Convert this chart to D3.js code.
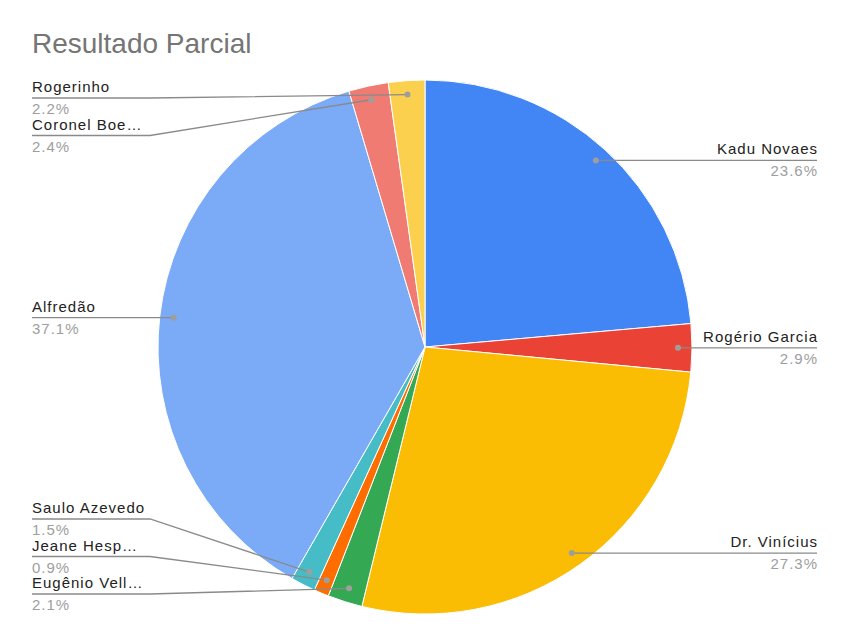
<!DOCTYPE html>
<html><head><meta charset="utf-8">
<script src="https://cdn.jsdelivr.net/npm/d3@7"></script>
<style>html,body{margin:0;padding:0;background:#fff;}svg{display:block;}</style>
</head><body>
<svg id="c" width="848" height="636"></svg>
<script>
const categories = ["Kadu Novaes","Rogério Garcia","Dr. Vinícius","Eugênio Vell…","Jeane Hesp…","Saulo Azevedo","Alfredão","Coronel Boe…","Rogerinho"];
const values = [23.6, 2.9, 27.3, 2.1, 0.9, 1.5, 37.1, 2.4, 2.2];
const colors = ["#4285f4","#ea4335","#fbbc04","#34a853","#ff6d01","#46bdc6","#7baaf7","#f07b72","#fcd04f"];
const title = "Resultado Parcial";

const W = 848, H = 636, cx = 425, cy = 347, R = 267, dotR = 253;
const FONT = "'Liberation Sans', Arial, sans-serif";
const svg = d3.select("#c");
svg.append("text").attr("x", 32).attr("y", 53).attr("font-family", FONT).attr("font-size", 28)
  .attr("fill", "#757575").text(title);

const pie = d3.pie().sort(null).value(d => d)(values);
const arc = d3.arc().innerRadius(0).outerRadius(R);
const g = svg.append("g").attr("transform", `translate(${cx},${cy})`);
g.selectAll("path").data(pie).join("path").attr("d", arc)
  .attr("fill", (d, i) => colors[i]).attr("stroke", "#fff").attr("stroke-width", 1);

const items = pie.map((d, i) => {
  const a = (d.startAngle + d.endAngle) / 2;
  const x = cx + dotR * Math.sin(a), y = cy - dotR * Math.cos(a);
  return {i, a, x, y, side: a < Math.PI ? "R" : "L", ly: y};
});
const minY = 98, maxY = 594, gap = 37.5;
["L", "R"].forEach(s => {
  const arr = items.filter(d => d.side === s).sort((a, b) => a.y - b.y);
  arr.forEach(d => d.ly = Math.max(minY, Math.min(maxY, d.y)));
  for (let k = 1; k < arr.length; k++) arr[k].ly = Math.max(arr[k].ly, arr[k - 1].ly + gap);
  for (let k = arr.length - 1; k >= 0; k--) {
    const lim = k === arr.length - 1 ? maxY : arr[k + 1].ly - gap;
    arr[k].ly = Math.min(arr[k].ly, lim);
  }
});

const lg = svg.append("g");
items.forEach(d => {
  let pts;
  if (d.side === "L") pts = [[32, d.ly], [150, d.ly], [d.x, d.y]];
  else pts = [[d.x, d.y], [Math.max(d.x, 698), d.ly], [817, d.ly]];
  lg.append("path").attr("d", d3.line()(pts)).attr("fill", "none").attr("stroke", "#8a8a8a").attr("stroke-width", 1.3);
  lg.append("circle").attr("cx", d.x).attr("cy", d.y).attr("r", 3).attr("fill", "#9e9e9e");
  const tx = d.side === "L" ? 32 : 818, anchor = d.side === "L" ? "start" : "end";
  lg.append("text").attr("x", tx).attr("y", d.ly - 6).attr("text-anchor", anchor)
    .attr("font-family", FONT).attr("font-size", 15).attr("letter-spacing", 1).attr("fill", "#222").text(categories[d.i]);
  lg.append("text").attr("x", tx).attr("y", d.ly + 16).attr("text-anchor", anchor)
    .attr("font-family", FONT).attr("font-size", 15).attr("letter-spacing", 1).attr("fill", "#9e9e9e").text(values[d.i].toFixed(1) + "%");
});
</script>
</body></html>
